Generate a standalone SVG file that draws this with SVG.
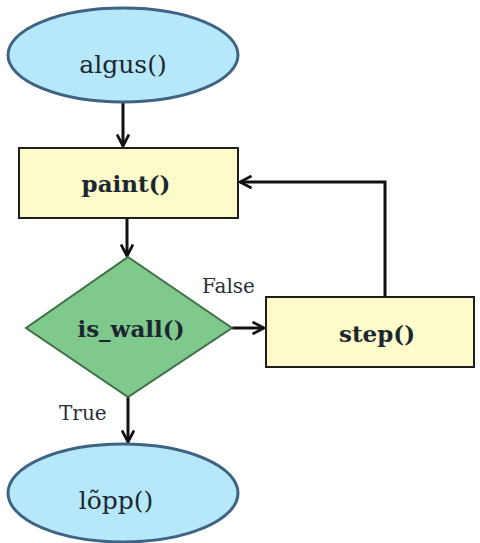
<svg xmlns="http://www.w3.org/2000/svg" width="480" height="543" viewBox="0 0 480 543">
  <style>
    .term { fill: #b6e8fa; stroke: #3f6384; stroke-width: 3; }
    .proc { fill: #fdfbc9; stroke: #1e1e1e; stroke-width: 2; }
    .dec { fill: #80c98c; stroke: #3f7048; stroke-width: 2; }
    .lbl { font-family: "DejaVu Serif", "Liberation Serif", serif; font-size: 25px; fill: #1c2630; text-anchor: middle; }
    .b { font-weight: bold; font-size: 23px; }
    .edge { fill: none; stroke: #111; stroke-width: 3; }
    .tag { font-family: "DejaVu Serif", "Liberation Serif", serif; font-size: 20px; fill: #2a2e35; }
  </style>
  <defs>
    <marker id="arrow" viewBox="0 0 14 14" refX="12.5" refY="7" markerWidth="14" markerHeight="14" markerUnits="userSpaceOnUse" orient="auto">
      <path d="M1,1 L12.5,7 L1,13" fill="none" stroke="#111" stroke-width="2.8"/>
    </marker>
  </defs>
  <rect width="480" height="543" fill="#ffffff"/>

  <g id="connectors">
    <path class="edge" d="M123,103 L123,146" marker-end="url(#arrow)"/>
    <path class="edge" d="M127,218 L127,256" marker-end="url(#arrow)"/>
    <path class="edge" d="M232,328 L264,328" marker-end="url(#arrow)"/>
    <path class="edge" d="M385,297 L385,182 L240,182" marker-end="url(#arrow)"/>
    <path class="edge" d="M128,397 L128,442" marker-end="url(#arrow)"/>
    <text class="tag" x="202" y="293">False</text>
    <text class="tag" x="59" y="420">True</text>
  </g>

  <g id="algus">
    <ellipse class="term" cx="123" cy="55" rx="115" ry="47"/>
    <text class="lbl" x="123" y="73">algus()</text>
  </g>

  <g id="paint">
    <rect class="proc" x="19" y="148" width="219" height="70"/>
    <text class="lbl b" x="126" y="192">paint()</text>
  </g>

  <g id="is_wall">
    <polygon class="dec" points="128,257 232,328 128,397 26,328"/>
    <text class="lbl b" x="131" y="337">is_wall()</text>
  </g>

  <g id="step">
    <rect class="proc" x="266" y="297" width="208" height="70"/>
    <text class="lbl b" x="377" y="342">step()</text>
  </g>

  <g id="lopp">
    <ellipse class="term" cx="123" cy="493" rx="115" ry="49"/>
    <text class="lbl" x="116" y="509">lõpp()</text>
  </g>
</svg>
